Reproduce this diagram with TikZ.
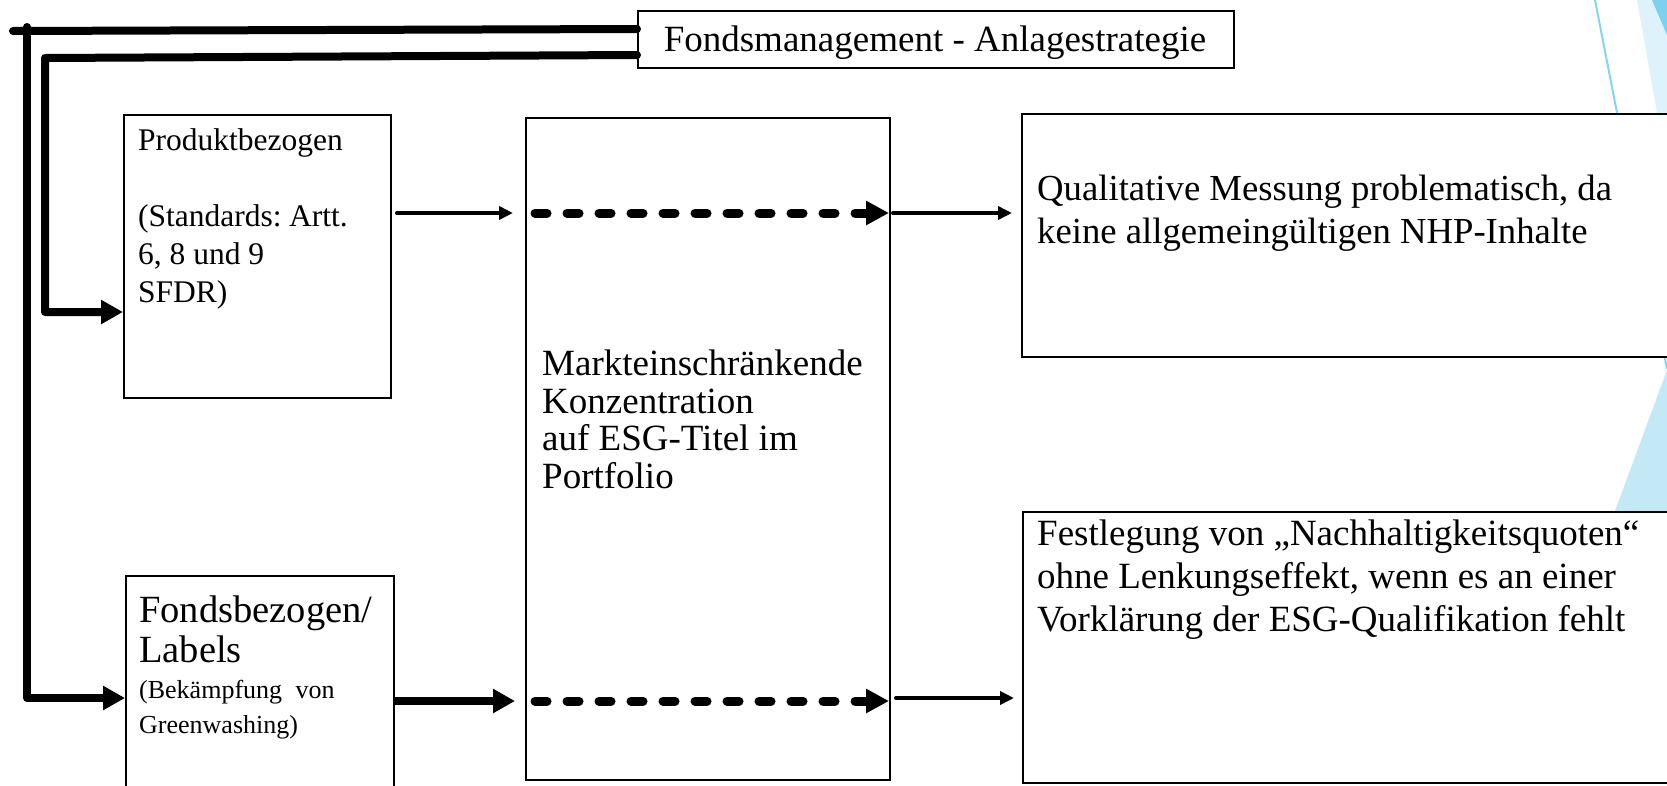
\documentclass[tikz,border=0pt]{standalone}
\usepackage{fontspec}
\setmainfont{Liberation Serif}
\usetikzlibrary{arrows.meta}

\definecolor{decoLight}{HTML}{DDF2FB}
\definecolor{decoMid}{HTML}{C3E9F7}
\definecolor{decoDark}{HTML}{7ED0EE}
\definecolor{decoLine}{HTML}{86D4F0}

\newcommand{\fsz}[2]{\fontsize{#1pt}{#2pt}\selectfont}

\begin{document}
\begin{tikzpicture}[x=1pt,y=-1pt,
  box/.style={draw=black, line width=2pt, fill=white, anchor=north west, inner sep=0pt},
  txt/.style={anchor=base west, inner sep=0pt, align=left},
  feed/.style={line width=8pt, line cap=round, line join=round},
  feedarrow/.style={feed, -{Triangle[length=22pt,width=23pt]}},
  thinarrow/.style={line width=4pt, line cap=round, -{Triangle[length=14pt,width=13pt]}},
  dasharrow/.style={line width=9pt, line cap=round, dash pattern=on 12pt off 20pt,
    -{Triangle[length=23pt,width=23pt]}}
]
\useasboundingbox (0,0) rectangle (1667,785);
\clip (0,0) rectangle (1667,785);
\fill[white] (0,0) rectangle (1667,785);

% theme ornaments along the right edge
\fill[decoLight] (1637,0) -- (1667,0) -- (1667,169) -- cycle;
\fill[decoDark] (1652,0) -- (1667,0) -- (1667,35) -- cycle;
\fill[decoMid] (1615,511) -- (1667,370) -- (1667,511) -- cycle;
\draw[decoLine, line width=2pt] (1595,0) -- (1667,369);

% boxes
\node[box, minimum width=596pt, minimum height=57pt] (fm) at (637,10) {};
\node[box, minimum width=267pt, minimum height=283pt] (prod) at (123,114) {};
\node[box, minimum width=268pt, minimum height=240pt] (fond) at (125,575) {};
\node[box, minimum width=364pt, minimum height=662pt] (mid) at (525,117) {};
\node[box, minimum width=700pt, minimum height=243pt] (rt) at (1021,113) {};
\node[box, minimum width=700pt, minimum height=271pt] (rb) at (1022,511) {};

% texts (each anchored at the baseline of its last line)
\node[anchor=base, inner sep=0pt, font=\fsz{37}{42}] (fmtext) at (935,51)
  {Fondsmanagement - Anlagestrategie};
\node[txt, font=\fsz{31.5}{38}] (prodtext) at (138,302)
  {Produktbezogen\\[38pt](Standards:\hspace{-3pt} Artt.\\6, 8 und 9\\SFDR)};
\node[txt, font=\fsz{38.5}{40}] (fondtext) at (139,662)
  {Fondsbezogen/\\Labels};
\node[txt, font=\fsz{26}{35}] (fondsub) at (139,733)
  {(Bekämpfung\hspace{7pt} von\\Greenwashing)};
\node[txt, font=\fsz{37}{37.5}] (midtext) at (542,488)
  {Markteinschränkende\\Konzentration\\auf ESG-Titel im\\Portfolio};
\node[txt, font=\fsz{36.7}{43}] (rttext) at (1037,243)
  {Qualitative Messung problematisch, da\\keine allgemeingültigen NHP-Inhalte};
\node[txt, font=\fsz{37}{43}] (rbtext) at (1037,631)
  {Festlegung von „Nachhaltigkeitsquoten“\\ohne Lenkungseffekt, wenn es an einer\\Vorklärung der ESG-Qualifikation fehlt};

% feed lines from the strategy box
\coordinate (h1) at (0,29);
\coordinate (h2) at (0,55);
\coordinate (c1) at (13,31);
\coordinate (v1top) at (27,27);
\coordinate (v1bot) at (27,698);
\coordinate (c2) at (45,58);
\coordinate (v2bot) at (45,312);
\draw[feed] (fm.west |- h1) -- (c1);
\draw[feedarrow] (v1top) -- (v1bot) -- (v1bot -| fond.west);
\draw[feedarrow] (fm.west |- h2) -- (c2) -- (v2bot) -- (v2bot -| prod.west);

% flow through the portfolio box
\coordinate (r1) at (0,213);
\coordinate (r2) at (0,701);
\draw[thinarrow, shorten <=5pt, shorten >=12pt] (prod.east |- r1) -- (mid.west |- r1);
\draw[dasharrow, shorten <=10pt, shorten >=2pt] (mid.west |- r1) -- (mid.east |- r1);
\draw[thinarrow, shorten <=2pt, shorten >=9pt] (mid.east |- r1) -- (rt.west |- r1);
\draw[feedarrow, line cap=butt, shorten >=10pt] (fond.east |- r2) -- (mid.west |- r2);
\draw[dasharrow, shorten <=10pt, shorten >=2pt] (mid.west |- r2) -- (mid.east |- r2);
\draw[thinarrow, shorten <=5pt, shorten >=8pt] ([yshift=3pt]mid.east |- r2) -- ([yshift=3pt]rb.west |- r2);
\end{tikzpicture}
\end{document}
